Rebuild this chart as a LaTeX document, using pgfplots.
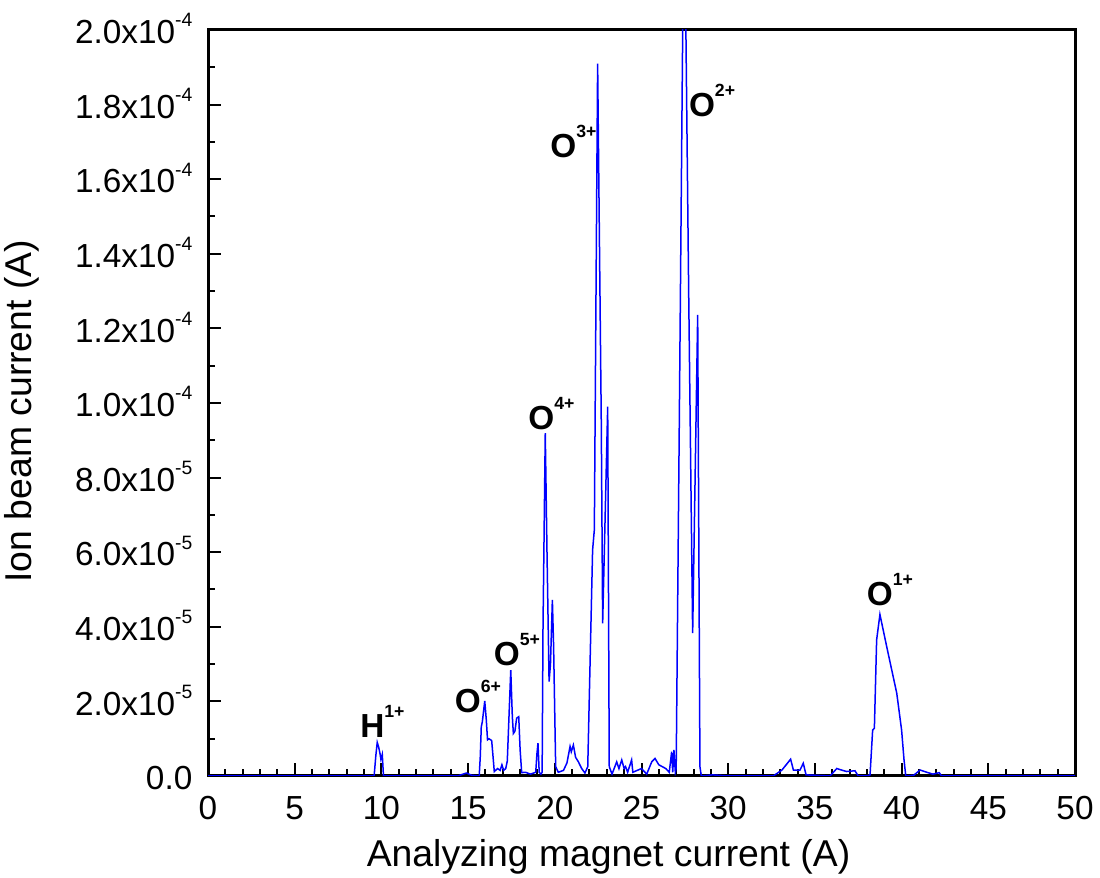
\documentclass[border=0pt]{standalone}
\usepackage{fontspec}
\setmainfont{Liberation Sans}
\usepackage{pgfplots}
\pgfplotsset{compat=1.18}

% superscript in the tick labels and bold ion labels
\newcommand{\sups}[1]{\raisebox{5pt}{\fontsize{5.8}{6}\selectfont #1}}
\newcommand{\ion}[2]{\textbf{#1\raisebox{6pt}{\fontsize{5.3}{6}\selectfont\bfseries #2}}}

\begin{document}
\begin{tikzpicture}
\begin{axis}[
    width=260.1pt, height=223.8pt, scale only axis,
    xmin=0, xmax=50, ymin=0, ymax=2e-4,
    xtick={0,5,...,50}, minor x tick num=4,
    ytick={0,2e-5,4e-5,6e-5,8e-5,1e-4,1.2e-4,1.4e-4,1.6e-4,1.8e-4,2e-4},
    yticklabels={0.0, 2.0x10\sups{-5}, 4.0x10\sups{-5}, 6.0x10\sups{-5}, 8.0x10\sups{-5},
        1.0x10\sups{-4}, 1.2x10\sups{-4}, 1.4x10\sups{-4}, 1.6x10\sups{-4}, 1.8x10\sups{-4}, 2.0x10\sups{-4}},
    minor y tick num=1,
    scaled y ticks=false,
    tick align=inside, xtick pos=left, ytick pos=left,
    major tick length=3.9pt, minor tick length=2.1pt,
    every tick/.style={black, line width=0.6pt},
    axis line style={line width=0.9pt},
    /pgf/number format/assume math mode=true,
    tick label style={font=\fontsize{10}{12}\selectfont, inner sep=0pt},
    xticklabel style={anchor=base, yshift=-13.2pt},
    yticklabel style={anchor=base east, xshift=-4.5pt, yshift=-4.1pt},
    label style={font=\fontsize{11.2}{13}\selectfont, inner sep=0pt},
    xlabel={Analyzing magnet current (A)},
    xlabel style={at={(axis description cs:0.462,-0.1215)}, anchor=base},
    ylabel={Ion beam current (A)},
    ylabel style={at={(axis description cs:-0.2034,0.489)}, anchor=base},
]
\addplot[blue, line width=0.45pt] coordinates {
(0,0) (9.58,0) (9.68,0.55e-5) (9.76,0.90e-5) (9.84,0.78e-5) (9.92,0.60e-5) (9.97,0.45e-5)
(10.05,0.58e-5) (10.12,0) (14.4,0) (14.9,0.08e-5) (15.2,0.02e-5)
(15.64,0) (15.70,0.5e-5) (15.76,1.32e-5) (15.82,1.45e-5) (15.96,2.01e-5) (16.05,1.5e-5)
(16.12,0.97e-5) (16.20,1.0e-5) (16.36,0.95e-5) (16.51,0.12e-5) (16.7,0.2e-5) (16.85,0.15e-5)
(16.95,0.3e-5) (17.05,0.15e-5) (17.17,0.2e-5)
(17.26,0.4e-5) (17.46,2.84e-5) (17.55,1.6e-5) (17.61,1.14e-5) (17.70,1.2e-5) (17.80,1.55e-5)
(17.92,1.59e-5) (18.0,0.7e-5) (18.09,0.09e-5) (18.3,0.1e-5) (18.6,0.05e-5) (18.9,0.1e-5)
(18.97,0.6e-5) (19.03,0.88e-5) (19.10,0.1e-5) (19.2,0.05e-5)
(19.27,0.1e-5) (19.32,4.0e-5) (19.45,9.19e-5) (19.55,6.0e-5) (19.67,2.53e-5) (19.75,3.0e-5)
(19.86,4.72e-5) (19.93,3.5e-5) (20.05,0.25e-5) (20.2,0.1e-5) (20.5,0.15e-5) (20.7,0.35e-5)
(20.88,0.79e-5) (20.95,0.65e-5) (21.07,0.83e-5) (21.2,0.5e-5) (21.36,0.38e-5) (21.55,0.2e-5)
(21.74,0.08e-5) (21.9,0.25e-5)
(22.18,6.06e-5) (22.28,6.6e-5) (22.47,19.1e-5) (22.68,9.5e-5) (22.76,4.09e-5) (23.05,9.9e-5)
(23.14,0.25e-5) (23.3,0.05e-5) (23.57,0.38e-5) (23.7,0.2e-5) (23.86,0.43e-5) (24.0,0.2e-5)
(24.08,0.25e-5) (24.2,0.1e-5) (24.43,0.43e-5) (24.5,0.1e-5) (25.0,0.2e-5) (25.3,0.05e-5)
(25.59,0.38e-5) (25.78,0.47e-5) (26.0,0.3e-5) (26.2,0.25e-5) (26.4,0.2e-5) (26.6,0.1e-5)
(26.74,0.65e-5) (26.8,0.1e-5) (26.87,0.7e-5) (26.95,0.1e-5)
(27.0,0.2e-5) (27.18,9.5e-5) (27.45,24.0e-5) (27.56,20.0e-5) (27.72,13.0e-5) (27.95,3.83e-5)
(28.24,12.36e-5) (28.37,0.25e-5) (28.45,0) (29.1,0.03e-5) (30,0) (32.6,0)
(33.1,0.16e-5) (33.6,0.45e-5) (33.76,0.16e-5) (34.14,0.16e-5) (34.33,0.34e-5) (34.49,0.03e-5)
(35.87,0) (36.26,0.2e-5) (36.6,0.15e-5) (36.83,0.12e-5) (37.31,0.14e-5) (37.5,0) (38.0,0)
(38.18,0.03e-5) (38.33,1.23e-5) (38.43,1.28e-5) (38.56,3.65e-5) (38.75,4.33e-5) (39.14,3.47e-5)
(39.72,2.22e-5) (40.0,1.23e-5) (40.14,0.43e-5) (40.24,0) (40.7,0.02e-5) (41.06,0.16e-5)
(41.45,0.1e-5) (41.8,0.05e-5) (42.17,0.09e-5) (42.3,0) (50,0)
};
\node[inner sep=0pt] at (axis cs:10.06,1.47e-5) {\ion{H}{1+}};
\node[inner sep=0pt] at (axis cs:15.57,2.13e-5) {\ion{O}{6+}};
\node[inner sep=0pt] at (axis cs:17.82,3.38e-5) {\ion{O}{5+}};
\node[inner sep=0pt] at (axis cs:19.81,9.72e-5) {\ion{O}{4+}};
\node[inner sep=0pt] at (axis cs:21.08,17.0e-5) {\ion{O}{3+}};
\node[inner sep=0pt] at (axis cs:29.07,18.12e-5) {\ion{O}{2+}};
\node[inner sep=0pt] at (axis cs:39.33,4.99e-5) {\ion{O}{1+}};
\end{axis}
\path ([shift={(-62.4pt,-30.6pt)}]current axis.south west) rectangle ([shift={(7.5pt,9pt)}]current axis.north east);
\end{tikzpicture}
\end{document}
